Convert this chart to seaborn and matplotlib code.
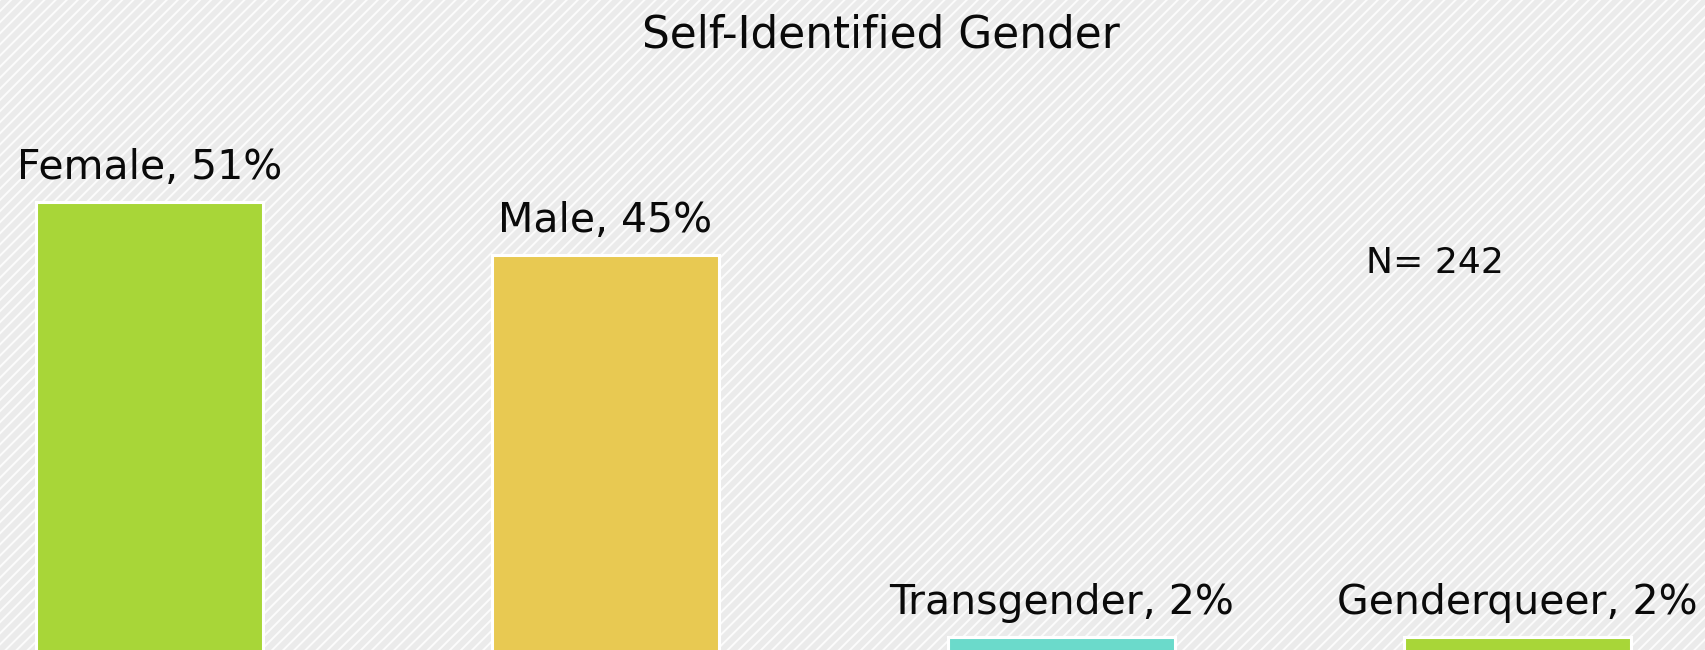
import matplotlib
matplotlib.use('Agg')
import matplotlib.pyplot as plt
import matplotlib.patches as mpatches
import seaborn as sns
import pandas as pd

# data
categories = ['Female', 'Male', 'Transgender', 'Genderqueer']
values = [51, 45, 2, 2]
labels = ['Female, 51%', 'Male, 45%', 'Transgender, 2%', 'Genderqueer, 2%']
colors = ['#A8D638', '#E8C952', '#6BDACB', '#A8D638']
title = 'Self-Identified Gender'
note = 'N= 242'

sns.set_style('white')
plt.rcParams['font.family'] = ['DejaVu Sans']
plt.rcParams['hatch.linewidth'] = 1.4

df = pd.DataFrame({'cat': categories, 'val': values})

fig = plt.figure(figsize=(17.05, 6.5), dpi=100)

# striped background
bg = mpatches.Rectangle((0, 0), 1, 1, transform=fig.transFigure, facecolor='#ebebeb',
                        edgecolor='#fcfcfc', hatch='///', linewidth=0, zorder=-10)
fig.patches.append(bg)

# axes reaching a bit below the figure so the bars run off the bottom edge
ax = fig.add_axes([0, -5 / 650, 1, 655 / 650])
ax.set_facecolor('none')
sns.barplot(data=df, x='cat', y='val', hue='cat', palette=colors, legend=False,
            width=0.496, edgecolor='white', linewidth=2.2, saturation=1, ax=ax)
ax.set_xlim(-149.5 / 456, (1705 - 149.5) / 456)
ax.set_ylim(0, 655 / 8.88)
ax.axis('off')

for i, (v, lab) in enumerate(zip(values, labels)):
    ax.annotate(lab, xy=(i, v), xytext=(0, 17), textcoords='offset points',
                ha='center', va='baseline', fontsize=29.5, color='#0a0a0a')

fig.text(881 / 1705, 1 - 47 / 650, title, ha='center', va='baseline',
         fontsize=31.5, color='#0a0a0a')
fig.text(1435 / 1705, 1 - 273 / 650, note, ha='center', va='baseline',
         fontsize=26, color='#0a0a0a')

fig.savefig('out.png', dpi=100)
